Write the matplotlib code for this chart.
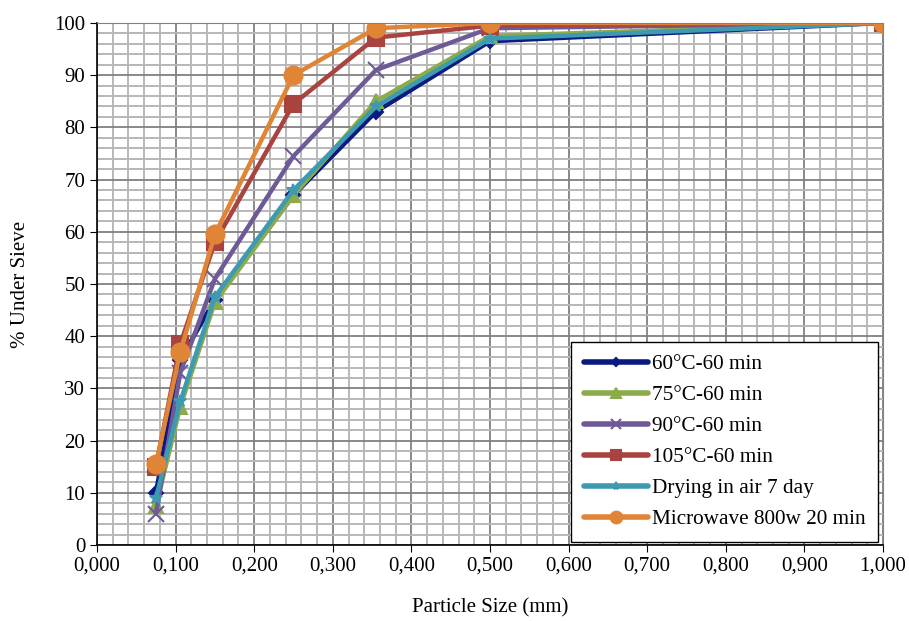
import matplotlib
matplotlib.use('Agg')
import matplotlib.pyplot as plt
from matplotlib.ticker import MultipleLocator, FuncFormatter

plt.rcParams['font.family'] = ['Liberation Serif', 'DejaVu Serif']

# sieve sizes (mm)
sizes = [0.075, 0.106, 0.150, 0.250, 0.355, 0.500, 1.000]

s60 = [10, 35.5, 47, 67, 83, 96.5, 100]
s75 = [7.5, 26.5, 46.5, 67, 85, 97.5, 100]
s90 = [6, 33, 51, 74.5, 91, 99, 100]
s105 = [15, 38.5, 58, 84.5, 97.2, 99.5, 100]
s_air = [9, 27.5, 47.5, 68, 84, 97, 100]
s_mw = [15.5, 37, 59.5, 90, 99, 100, 100]

labels = ['60°C-60 min', '75°C-60 min', '90°C-60 min', '105°C-60 min',
          'Drying in air 7 day', 'Microwave 800w 20 min']
series = [s60, s75, s90, s105, s_air, s_mw]
colors = ['#0a1a80', '#8cab4b', '#6e5a96', '#a84340', '#3d9ab0', '#e08436']
markers = ['D', '^', 'x', 's', '*', 'o']
msizes = [7, 10, 11, 12, 9, 13]

fig = plt.figure(figsize=(9.09, 6.21), dpi=100)
ax = fig.add_axes([0.1067, 0.1224, 0.8647, 0.8406])

for ys, lab, c, m, ms in zip(series, labels, colors, markers, msizes):
    ax.plot(sizes, ys, color=c, lw=3.2, marker=m, markersize=ms,
            markeredgewidth=1.5, label=lab, solid_capstyle='round')

ax.set_xlim(0, 1.0)
ax.set_ylim(0, 100)
ax.xaxis.set_major_locator(MultipleLocator(0.1))
ax.xaxis.set_minor_locator(MultipleLocator(0.02))
ax.yaxis.set_major_locator(MultipleLocator(10))
ax.yaxis.set_minor_locator(MultipleLocator(2))
ax.xaxis.set_major_formatter(FuncFormatter(lambda v, p: ('%.3f' % v).replace('.', ',')))

ax.grid(which='minor', color='#b8b8b8', lw=1.4)
ax.grid(which='major', color='#808080', lw=1.3)
ax.set_axisbelow(True)
ax.tick_params(which='minor', length=0)
ax.tick_params(which='major', direction='out', length=5, labelsize=15, color='black')
for sp in ['top', 'right']:
    ax.spines[sp].set_color('#808080')
for sp in ['left', 'bottom']:
    ax.spines[sp].set_color('black')
    ax.spines[sp].set_linewidth(1.2)

ax.set_xlabel('Particle Size (mm)', fontsize=15, labelpad=16)
ax.set_ylabel('% Under Sieve', fontsize=15, labelpad=17)

leg = ax.legend(loc='lower right', fontsize=15.3, fancybox=False, framealpha=1,
                edgecolor='black', handlelength=3.0, labelspacing=0.52,
                borderpad=0.6, handletextpad=0.2, markerscale=0.65,
                borderaxespad=0, bbox_to_anchor=(0.994, 0.006))
leg.get_frame().set_linewidth(1.0)
for line in leg.get_lines():
    line.set_linewidth(4)

fig.savefig('out.png', dpi=100)
